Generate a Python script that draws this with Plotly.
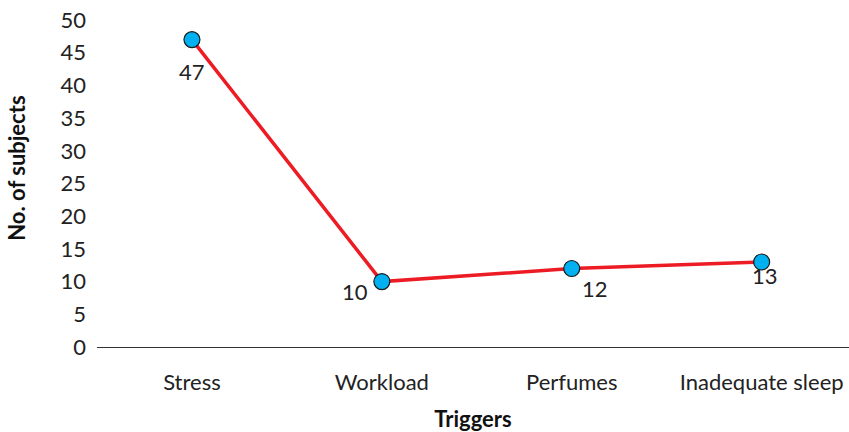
import plotly.graph_objects as go

triggers = ["Stress", "Workload", "Perfumes", "Inadequate sleep"]
subjects = [47, 10, 12, 13]
y_ticks = [0, 5, 10, 15, 20, 25, 30, 35, 40, 45, 50]

# label offsets (pixels) for the value annotations
label_shift = [(0, -32), (-27, -10), (23, -20), (3, -14)]

FONT = "Lato"
SIZE = 22

fig = go.Figure()
fig.add_trace(go.Scatter(
    x=triggers,
    y=subjects,
    mode="lines+markers",
    line=dict(color="#ED1C24", width=3.5),
    marker=dict(size=16, color="#00B0F0", line=dict(color="#1a1a1a", width=1.2)),
    showlegend=False,
    cliponaxis=False,
))

for cat, val, (dx, dy) in zip(triggers, subjects, label_shift):
    fig.add_annotation(
        x=cat, y=val, text=str(val), showarrow=False,
        xshift=dx, yshift=dy,
        font=dict(family=FONT, size=SIZE, color="#222222"),
    )

# y-axis title, placed a little above the plot centre
fig.add_annotation(
    xref="paper", yref="paper", x=0, y=0.545,
    xshift=-80, xanchor="center", yanchor="middle",
    text="<b>No. of subjects</b>", textangle=-90, showarrow=False,
    font=dict(family=FONT, size=SIZE, color="#111111"),
)

fig.update_layout(
    width=849, height=432,
    margin=dict(l=97, r=0, t=20, b=85),
    paper_bgcolor="white", plot_bgcolor="white",
    font=dict(family=FONT, size=SIZE, color="#222222"),
    xaxis=dict(
        type="category",
        range=[-0.5, 3.46],
        showgrid=False, zeroline=False,
        showline=True, linecolor="#333333", linewidth=1.3,
        ticks="", ticklabelstandoff=15,
        tickfont=dict(family=FONT, size=SIZE, color="#222222"),
        title=dict(text="<b>Triggers</b>", font=dict(family=FONT, size=SIZE, color="#111111"), standoff=20),
    ),
    yaxis=dict(
        range=[0, 50],
        tickvals=y_ticks,
        showgrid=False, zeroline=False, showline=False,
        ticks="", ticklabelstandoff=10,
        tickfont=dict(family=FONT, size=SIZE, color="#222222"),
    ),
)

fig.write_html("out.html")
